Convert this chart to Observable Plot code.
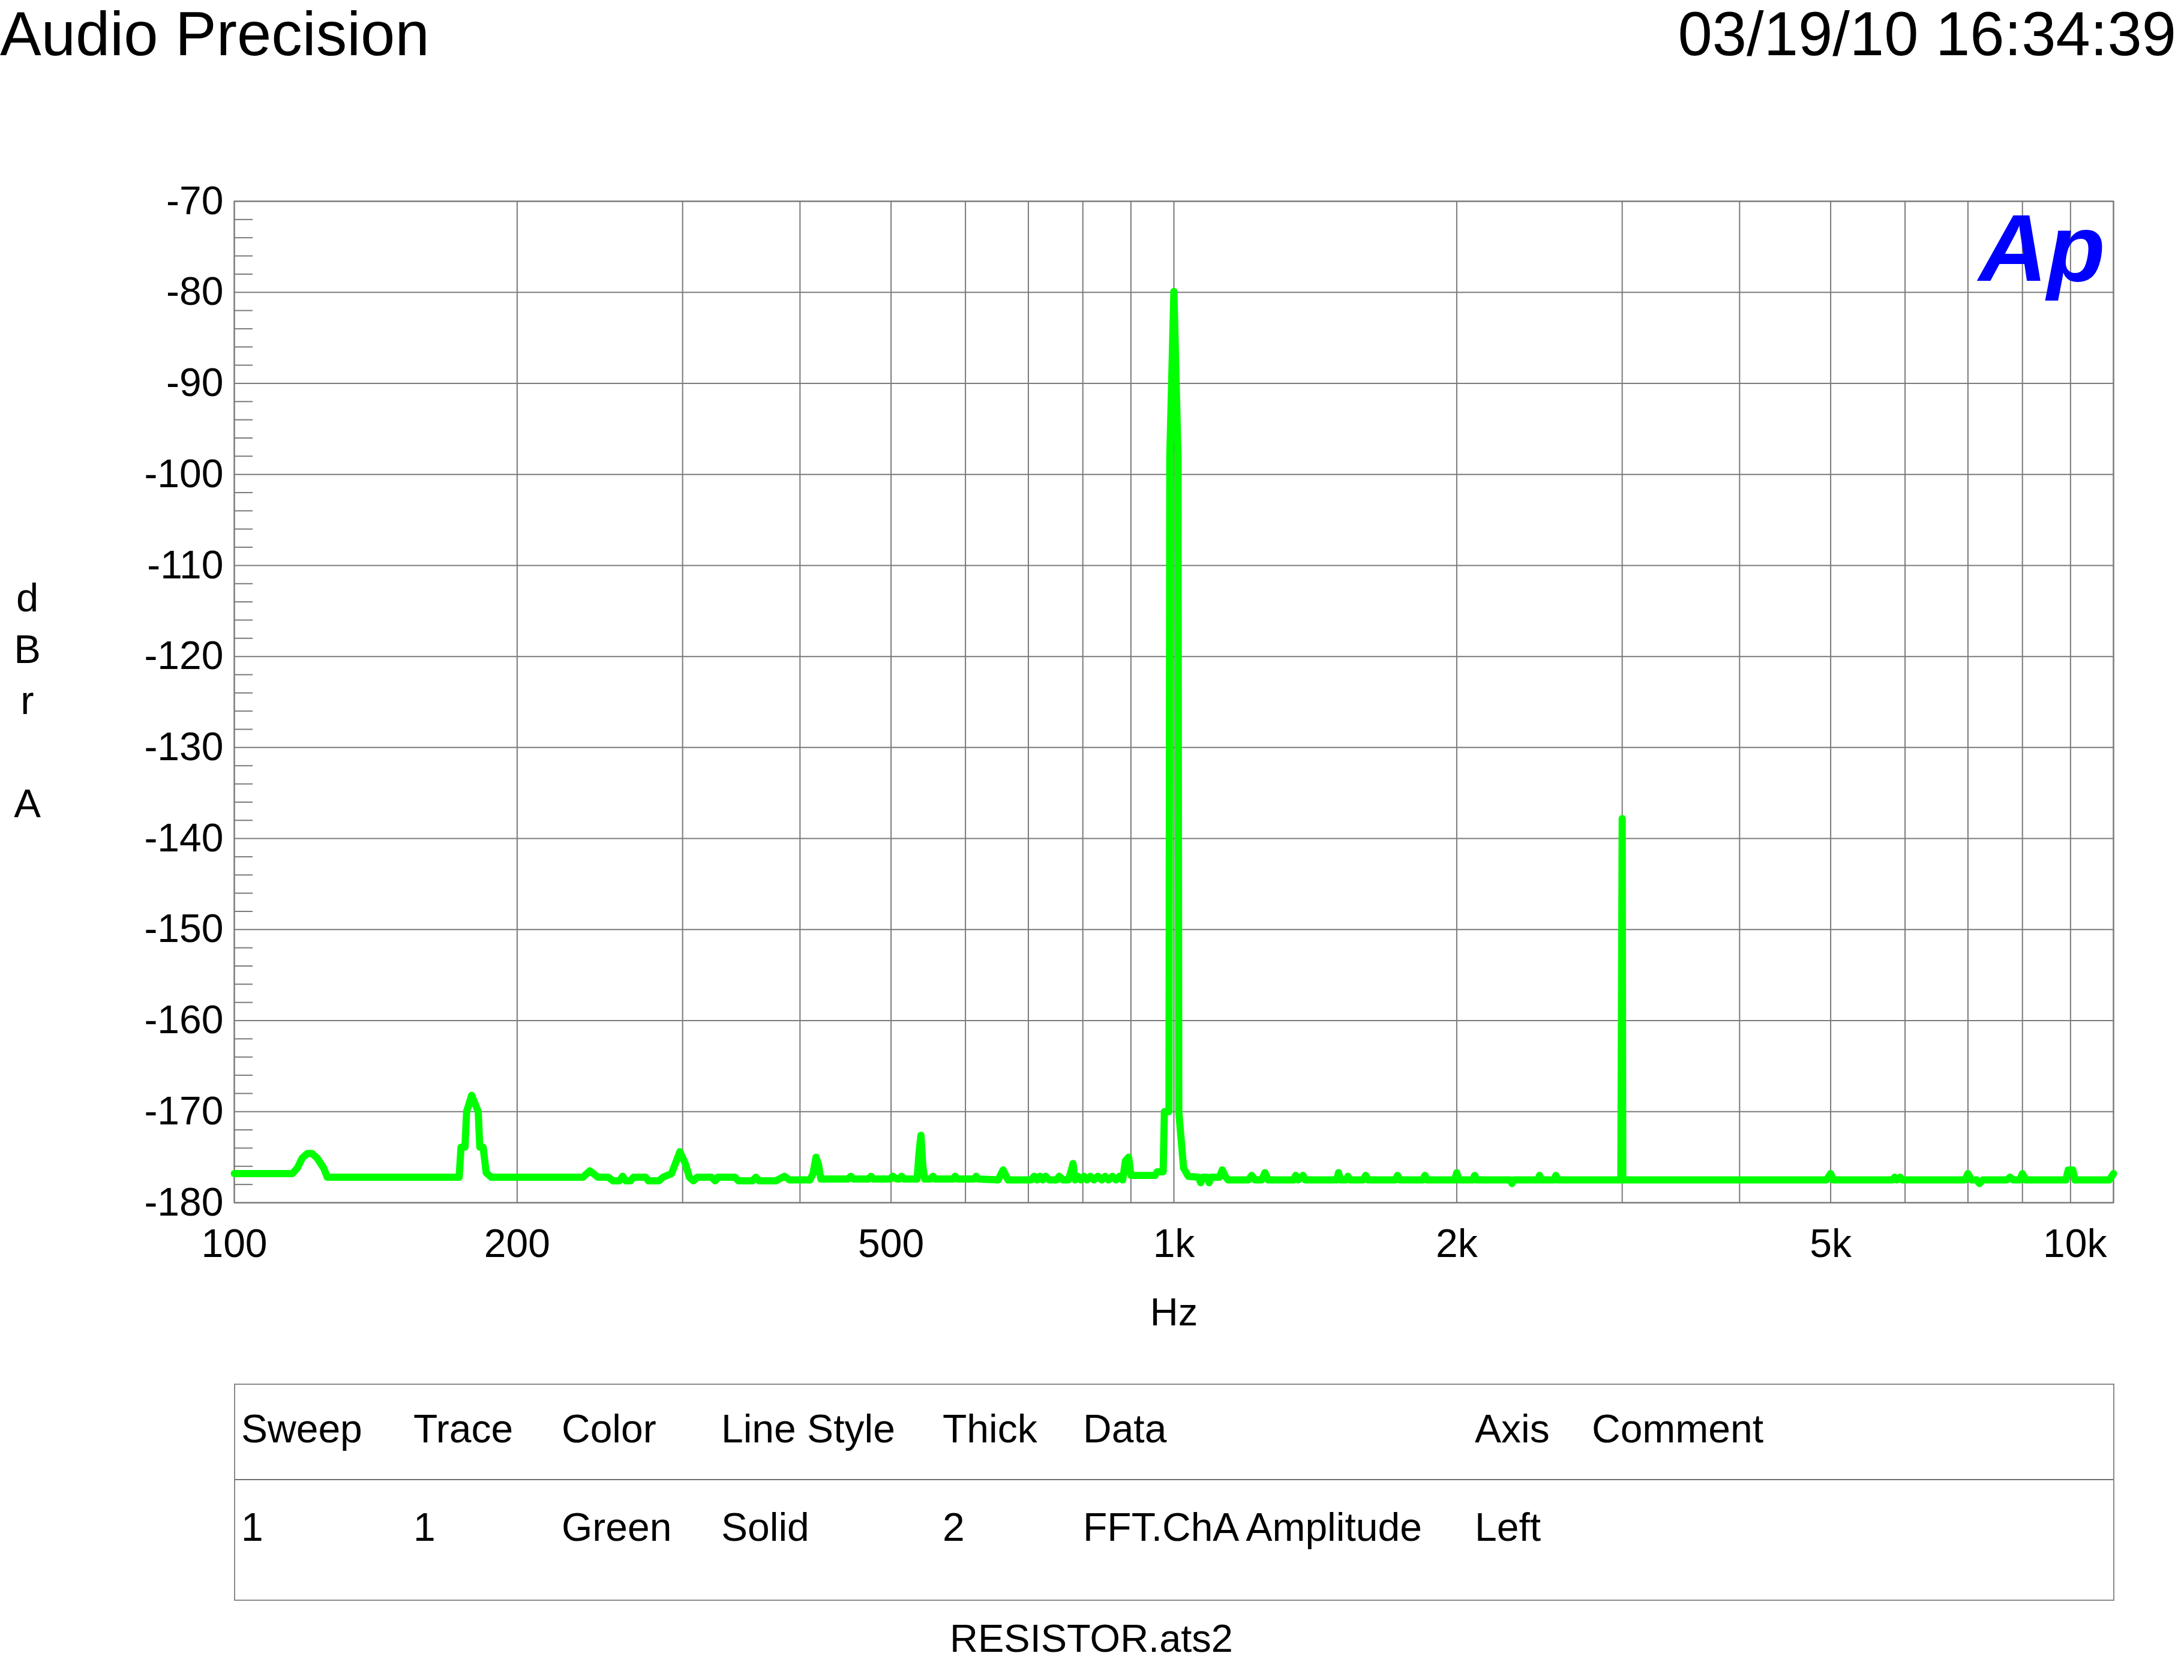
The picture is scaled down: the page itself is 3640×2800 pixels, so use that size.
<!DOCTYPE html>
<html>
<head>
<meta charset="utf-8">
<script src="https://cdn.jsdelivr.net/npm/d3@7"></script>
<script src="https://cdn.jsdelivr.net/npm/@observablehq/plot@0.6"></script>
<style>
  html, body { margin: 0; padding: 0; background: #fff; }
  #page { position: relative; width: 3640px; height: 2800px; overflow: hidden;
          font-family: "Liberation Sans", Arial, sans-serif; color: #000; }
  .hdr { position: absolute; top: 5px; font-size: 103px; line-height: 103px; white-space: nowrap; }
  #chart { position: absolute; left: 0; top: 200px; }
  #legend { position: absolute; left: 390px; top: 2306px; width: 3134px; height: 362px;
            box-sizing: border-box; border: 2px solid #8a8a8a; }
  #legend .divider { position: absolute; left: 0; right: 0; top: 157px; border-top: 2px solid #707070; }
  #legend .cell { position: absolute; font-size: 66px; line-height: 66px; white-space: nowrap; }
  #file { position: absolute; top: 2698px; left: 1819px; transform: translateX(-50%);
          font-size: 65px; line-height: 65px; white-space: nowrap; }
</style>
</head>
<body>
<div id="page">
  <div class="hdr" id="title" style="left:0"></div>
  <div class="hdr" id="stamp" style="right:13px"></div>
  <div id="chart"></div>
  <div id="legend"><div class="divider"></div></div>
  <div id="file"></div>
</div>
<script>
// ---------- texts ----------
const titleText = "Audio Precision";
const stampText = "03/19/10 16:34:39";
const fileName = "RESISTOR.ats2";
const yAxisLabel = "d\nB\nr\n\nA";
const xAxisLabel = "Hz";
const logoText = "Ap";

// ---------- legend table ----------
const legendHeaders = ["Sweep", "Trace", "Color", "Line Style", "Thick", "Data", "Axis", "Comment"];
const legendRow = ["1", "1", "Green", "Solid", "2", "FFT.ChA Amplitude", "Left", ""];

// ---------- axes ----------
const xTickHz = [100, 200, 500, 1000, 2000, 5000];
const xTickLabels = ["100", "200", "500", "1k", "2k", "5k"];
const xEndTickHz = [10000];
const xEndTickLabels = ["10k"];
const xGridHz = [100, 200, 300, 400, 500, 600, 700, 800, 900,
                 1000, 2000, 3000, 4000, 5000, 6000, 7000, 8000, 9000, 10000];
const yTickDb = [-180, -170, -160, -150, -140, -130, -120, -110, -100, -90, -80, -70];
const yMinorDb = [-178, -176, -174, -172, -168, -166, -164, -162, -158, -156, -154, -152,
                  -148, -146, -144, -142, -138, -136, -134, -132, -128, -126, -124, -122,
                  -118, -116, -114, -112, -108, -106, -104, -102, -98, -96, -94, -92,
                  -88, -86, -84, -82, -78, -76, -74, -72];

// ---------- FFT trace: [frequency Hz, level dBr A] ----------
const fftPoints = [
  [100, -176.8], [115.3, -176.8], [116.7, -176.2], [118.1, -175.1], [119.6, -174.6],
  [121.0, -174.6], [122.5, -175.1], [124.5, -176.2], [125.6, -177.2],
  [173.5, -177.2], [174.3, -173.9], [176.0, -173.9], [176.7, -170.0], [178.9, -168.2],
  [181.8, -170.0], [182.5, -173.9], [184.0, -173.9], [185.4, -176.7], [187.7, -177.2],
  [235, -177.2], [239, -176.5], [243.8, -177.2],
  [250, -177.2], [253, -177.6], [257, -177.6], [259, -177.1], [261, -177.6], [264, -177.6],
  [266, -177.2], [274, -177.2], [276, -177.6], [283, -177.6], [286, -177.2],
  [292, -176.8], [298, -174.4], [302, -175.7], [305, -177.2], [308, -177.6], [311, -177.2],
  [322, -177.2], [325, -177.6], [327, -177.2], [341, -177.2], [344, -177.6], [356, -177.6],
  [359, -177.2], [362, -177.6], [377, -177.6], [385, -177.1], [390, -177.5], [410, -177.5],
  [413, -176.8], [416, -175.0], [418.5, -175.8], [421, -177.4], [450, -177.4], [453, -177.1],
  [456, -177.4], [473, -177.4], [476, -177.1], [479, -177.4], [499, -177.4], [502, -177.1],
  [507, -177.4], [510, -177.4], [513, -177.1], [516, -177.4],
  [533, -177.4], [535.5, -174.5], [538, -172.6], [540.5, -176.0], [543, -177.4],
  [551, -177.4], [554, -177.1], [557, -177.4], [582, -177.4], [585, -177.1], [588, -177.4],
  [613, -177.4], [616, -177.1], [619, -177.4], [650, -177.5], [658, -176.4], [666, -177.5],
  [705, -177.5], [710, -177.1], [715, -177.5], [720, -177.1], [725, -177.5], [730, -177.1],
  [737, -177.5], [750, -177.5], [755, -177.1], [762, -177.5], [772, -177.5], [778, -176.4],
  [781, -175.7], [785, -177.5], [790, -177.1], [796, -177.5], [802, -177.1], [808, -177.5],
  [815, -177.1], [822, -177.5], [830, -177.1], [838, -177.5], [845, -177.1], [852, -177.5],
  [860, -177.1], [868, -177.5], [875, -177.1], [882, -177.5], [888, -175.4], [895, -175.0],
  [900, -177.0], [955, -177.0], [960, -176.6], [974, -176.6],
  [977, -170.0], [988, -170.0], [990, -98.0], [1000, -79.9], [1010, -98.0], [1012, -170.0],
  [1024, -176.2], [1036, -177.1], [1062, -177.2], [1068, -177.8], [1074, -177.2],
  [1084, -177.2], [1090, -177.8], [1096, -177.2], [1118, -177.2], [1126, -176.4],
  [1134, -177.1], [1142, -177.5], [1200, -177.5], [1210, -177.0], [1220, -177.5],
  [1240, -177.5], [1250, -176.7], [1260, -177.5], [1340, -177.5], [1348, -177.0],
  [1356, -177.5], [1372, -177.0], [1380, -177.5], [1490, -177.5], [1497, -176.7],
  [1504, -177.5], [1525, -177.5], [1532, -177.1], [1540, -177.5], [1590, -177.5],
  [1600, -177.0], [1610, -177.5], [1720, -177.5], [1730, -177.0], [1740, -177.5],
  [1840, -177.5], [1850, -177.0], [1860, -177.5], [1990, -177.5], [2000, -176.7],
  [2010, -177.5], [2080, -177.5], [2090, -177.0], [2100, -177.5], [2280, -177.5],
  [2290, -177.9], [2300, -177.5], [2440, -177.5], [2450, -177.0], [2460, -177.5],
  [2540, -177.5], [2550, -177.0], [2560, -177.5], [2990, -177.5], [3000, -137.8],
  [3004, -177.5], [4950, -177.5], [5000, -176.8], [5030, -177.5], [5820, -177.5],
  [5850, -177.2], [5880, -177.5], [5930, -177.2], [5960, -177.5], [6950, -177.5],
  [7000, -176.8], [7060, -177.5], [7150, -177.5], [7200, -177.9], [7260, -177.5],
  [7700, -177.5], [7760, -177.2], [7820, -177.5], [7950, -177.5], [8000, -176.8],
  [8060, -177.5], [8900, -177.5], [8950, -176.4], [9050, -176.4], [9100, -177.5],
  [9900, -177.5], [10000, -176.8]
];

// ---------- header & footer text ----------
document.getElementById("title").textContent = titleText;
document.getElementById("stamp").textContent = stampText;
document.getElementById("file").textContent = fileName;

// ---------- legend ----------
const legend = document.getElementById("legend");
const colLeft = [10, 297, 544, 810, 1179, 1413, 2066, 2261];
function addRow(values, top) {
  values.forEach((v, i) => {
    if (!v) return;
    const s = document.createElement("div");
    s.className = "cell";
    s.style.left = colLeft[i] + "px";
    s.style.top = top + "px";
    s.textContent = v;
    legend.appendChild(s);
  });
}
addRow(legendHeaders, 40);
addRow(legendRow, 204);

// ---------- chart ----------
const gridColor = "#7a7a7a";
const fmtHz = (labels, ticks) => d => labels[ticks.indexOf(d)];
const chart = Plot.plot({
  width: 3640,
  height: 2050,
  marginTop: 135,
  marginBottom: 246,
  marginLeft: 390,
  marginRight: 118,
  style: {
    fontFamily: '"Liberation Sans", Arial, sans-serif',
    fontSize: "66px",
    color: "#000",
    background: "transparent",
    overflow: "visible"
  },
  x: {type: "log", domain: [100, 10000]},
  y: {domain: [-180, -70]},
  marks: [
    Plot.gridX({ticks: xGridHz, stroke: gridColor, strokeOpacity: 1, strokeWidth: 2}),
    Plot.gridY({ticks: yTickDb, stroke: gridColor, strokeOpacity: 1, strokeWidth: 2}),
    Plot.tickY(yMinorDb, {y: d => d, stroke: gridColor, strokeWidth: 2, insetRight: 3101}),
    Plot.frame({stroke: gridColor, strokeWidth: 2}),
    Plot.axisY({ticks: yTickDb, tickSize: 0, tickPadding: 18, tickFormat: d => String(d),
                fontSize: 66, label: null}),
    Plot.axisX({ticks: xTickHz, tickSize: 0, tickPadding: 44,
                tickFormat: fmtHz(xTickLabels, xTickHz), fontSize: 66, label: null}),
    Plot.axisX({ticks: xEndTickHz, tickSize: 0, tickPadding: 44, textAnchor: "end", dx: -11,
                tickFormat: fmtHz(xEndTickLabels, xEndTickHz), fontSize: 66, label: null}),
    Plot.text([xAxisLabel], {text: d => d, frameAnchor: "bottom", lineAnchor: "top",
                             dy: 158, fontSize: 65}),
    Plot.text([yAxisLabel], {text: d => d, frameAnchor: "left", textAnchor: "middle",
                             lineAnchor: "middle", lineHeight: 1.28, dx: -345, dy: -7,
                             fontSize: 67}),
    Plot.text([logoText], {text: d => d, frameAnchor: "top-right", textAnchor: "end",
                           lineAnchor: "top", dx: -14, dy: 20, fontSize: 158,
                           fontWeight: "bold", fontStyle: "italic", fill: "#0000ff"}),
    Plot.line(fftPoints, {x: d => d[0], y: d => d[1], stroke: "#00ff00", strokeWidth: 12,
                          strokeLinejoin: "round", strokeLinecap: "round"})
  ]
});
document.getElementById("chart").appendChild(chart);
</script>
</body>
</html>
